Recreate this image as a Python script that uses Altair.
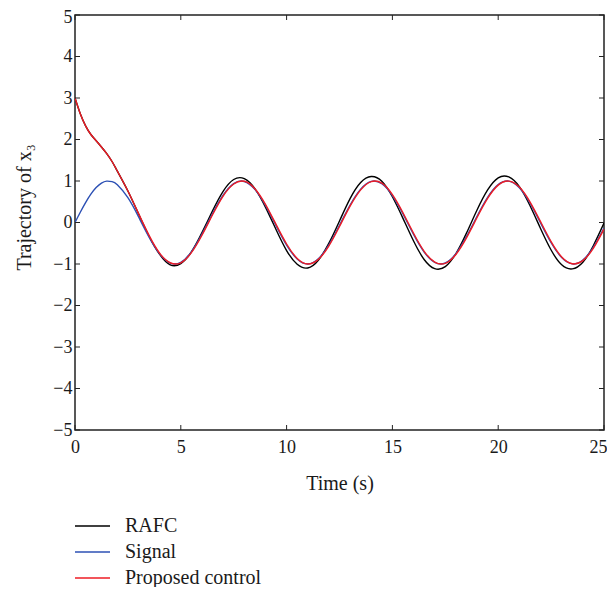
import altair as alt
import pandas as pd

time = [0, 0.25, 0.5, 0.75, 1, 1.25, 1.5, 1.75, 2, 2.5, 3, 3.5, 4, 4.5, 5, 5.5, 6, 6.5, 7, 7.5,
        8, 8.5, 9, 9.5, 10, 10.5, 11, 11.5, 12, 12.5, 13, 13.5, 14, 14.5, 15, 15.5, 16, 16.5,
        17, 17.5, 18, 18.5, 19, 19.5, 20, 20.5, 21, 21.5, 22, 22.5, 23, 23.5, 24, 24.5, 25]

signal = [0, 0.247, 0.479, 0.682, 0.841, 0.949, 0.997, 0.984, 0.909, 0.598, 0.141, -0.351,
          -0.757, -0.978, -0.959, -0.706, -0.279, 0.215, 0.657, 0.938, 0.989, 0.798, 0.412,
          -0.075, -0.544, -0.880, -1.000, -0.875, -0.537, -0.066, 0.420, 0.804, 0.991, 0.935,
          0.650, 0.207, -0.288, -0.712, -0.961, -0.976, -0.751, -0.342, 0.150, 0.606, 0.913,
          0.996, 0.837, 0.471, -0.009, -0.487, -0.846, -0.998, -0.906, -0.591, -0.132]

proposed = [3.0, 2.62, 2.33, 2.12, 1.97, 1.82, 1.66, 1.47, 1.24, 0.76, 0.22, -0.31, -0.74,
            -0.97, -0.97, -0.727, -0.307, 0.186, 0.637, 0.928, 0.993, 0.815, 0.439, -0.046,
            -0.518, -0.866, -1.0, -0.889, -0.562, -0.096, 0.393, 0.786, 0.987, 0.947, 0.672,
            0.235, -0.259, -0.694, -0.954, -0.983, -0.770, -0.370, 0.120, 0.581, 0.900, 0.998,
            0.853, 0.497, 0.021, -0.461, -0.832, -0.995, -0.918, -0.617, -0.160]

rafc = [3.0, 2.62, 2.33, 2.12, 1.97, 1.82, 1.66, 1.47, 1.24, 0.76, 0.21, -0.33, -0.77,
        -1.02, -0.99, -0.71, -0.245, 0.282, 0.751, 1.036, 1.057, 0.816, 0.370, -0.169,
        -0.676, -1.006, -1.095, -0.909, -0.498, 0.037, 0.577, 0.965, 1.109, 0.995, 0.621,
        0.100, -0.447, -0.892, -1.113, -1.064, -0.753, -0.257, 0.301, 0.785, 1.077, 1.098,
        0.864, 0.409, -0.144, -0.663, -1.019, -1.118, -0.958, -0.553, -0.015]

series_names = ["RAFC", "Signal", "Proposed control"]
series_colors = ["#000000", "#2c50b4", "#ee1c24"]

x_ticks = [0, 5, 10, 15, 20, 25]
y_ticks = [-5, -4, -3, -2, -1, 0, 1, 2, 3, 4, 5]

W, H = 529, 415
FONT = "Liberation Serif"
TXT = "#1a1a1a"

rows = []
for name, vals in zip(series_names, [rafc, signal, proposed]):
    for t, v in zip(time, vals):
        rows.append({"t": t, "v": v, "series": name})
df = pd.DataFrame(rows)

xscale = alt.Scale(domain=[0, 25], nice=False, zero=False)
yscale = alt.Scale(domain=[-5, 5], nice=False, zero=False)
color = alt.Color(
    "series:N",
    scale=alt.Scale(domain=series_names, range=series_colors),
    legend=None,
)

base = alt.Chart(df)
layers = []
for name in series_names:
    enc = dict(
        x=alt.X("t:Q", scale=xscale, title="Time (s)",
                axis=alt.Axis(values=x_ticks, tickSize=0, labelPadding=8, titlePadding=17,
                              labelFlush=False, grid=False, domain=False,
                              labelOffset=alt.condition("datum.value == 25",
                                                        alt.value(-6), alt.value(0)))),
        y=alt.Y("v:Q", scale=yscale, title="Trajectory of x₃",
                axis=alt.Axis(values=y_ticks, tickSize=0, labelPadding=3, titlePadding=18,
                              labelFlush=False, titleY=192, grid=False, domain=False,
                              labelOffset=alt.condition("datum.value == 5",
                                                        alt.value(2), alt.value(0)))),
        color=color,
    )
    layers.append(
        base.transform_filter(alt.datum.series == name)
        .mark_line(strokeWidth=1.4, interpolate="natural", clip=True)
        .encode(**enc)
    )

xt = pd.DataFrame({"xt": x_ticks})
yt = pd.DataFrame({"yt": y_ticks})
tick_color = "#222222"
xtick_bottom = alt.Chart(xt).mark_rule(color=tick_color, strokeWidth=1).encode(
    x=alt.X("xt:Q", scale=xscale), y=alt.value(H), y2=alt.value(H - 5))
xtick_top = alt.Chart(xt).mark_rule(color=tick_color, strokeWidth=1).encode(
    x=alt.X("xt:Q", scale=xscale), y=alt.value(0), y2=alt.value(5))
ytick_left = alt.Chart(yt).mark_rule(color=tick_color, strokeWidth=1).encode(
    y=alt.Y("yt:Q", scale=yscale), x=alt.value(0), x2=alt.value(5))
ytick_right = alt.Chart(yt).mark_rule(color=tick_color, strokeWidth=1).encode(
    y=alt.Y("yt:Q", scale=yscale), x=alt.value(W), x2=alt.value(W - 5))

# legend (drawn below the plot, like the reference)
LEG_TOP = 511      # centre of first legend row, relative to plot top
LEG_STEP = 26      # spacing between rows
legend_layers = []
for i, (name, col) in enumerate(zip(series_names, series_colors)):
    ldf = pd.DataFrame({"series": [name]})
    yy = LEG_TOP + LEG_STEP * i
    legend_layers.append(
        alt.Chart(ldf).mark_rule(color=col, strokeWidth=1.4, clip=False).encode(
            x=alt.value(0), x2=alt.value(35), y=alt.value(yy))
    )
    legend_layers.append(
        alt.Chart(ldf).mark_text(align="left", baseline="middle", font=FONT, fontSize=20,
                                 color=TXT, clip=False).encode(
            x=alt.value(50), y=alt.value(yy), text="series:N")
    )

chart = alt.layer(*layers, xtick_bottom, xtick_top, ytick_left, ytick_right,
                  *legend_layers).properties(
    width=W, height=H,
    autosize=alt.AutoSizeParams(type="none"),
    padding={"left": 67, "top": 7, "right": 3, "bottom": 157},
).configure_view(
    stroke="#222222", strokeWidth=1.5
).configure_axis(
    labelFont=FONT, labelFontSize=18, labelColor=TXT,
    titleFont=FONT, titleFontSize=20, titleFontWeight="normal", titleColor=TXT,
)

chart.save("out.html", embed_options={"renderer": "svg", "actions": False})
